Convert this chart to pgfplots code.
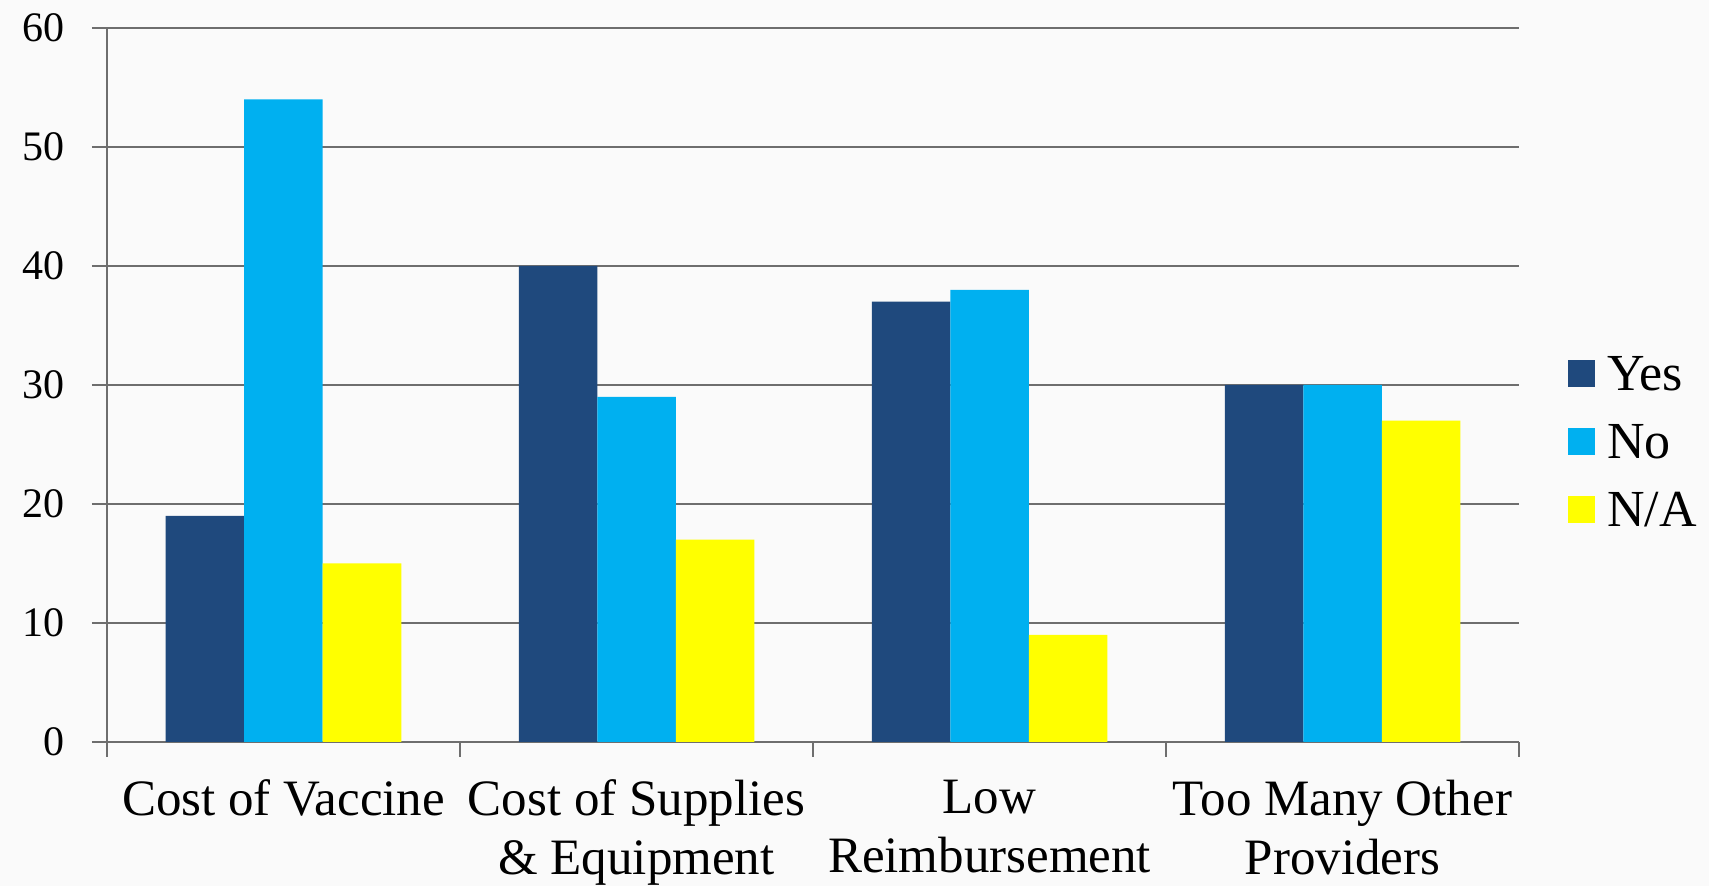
\documentclass[border=0pt]{standalone}
\usepackage{fontspec}
\setmainfont{Liberation Serif}
\usepackage{pgfplots}
\pgfplotsset{compat=1.18}
\definecolor{yescol}{HTML}{1F497D}
\definecolor{nocol}{HTML}{00B0F0}
\definecolor{nacol}{HTML}{FFFF00}
\definecolor{gridc}{HTML}{6E6E6E}
\definecolor{bgc}{HTML}{FAFAFA}
\begin{document}
\begin{tikzpicture}
\fill[bgc] (-53.5pt,-72pt) rectangle (801pt,371pt);
\begin{axis}[
  at={(0pt,0pt)}, anchor=south west,
  width=706pt, height=357pt, scale only axis,
  xmin=-0.5, xmax=3.5, ymin=0, ymax=60,
  ybar=0pt, bar width=39.25pt,
  axis x line*=bottom, axis y line*=left,
  axis line style={gridc, line width=1pt},
  ytick={0,10,...,60},
  ymajorgrids, grid style={gridc, line width=1pt},
  tick align=outside,
  major tick length=7.5pt, minor tick length=7.5pt,
  tick style={gridc, line width=1pt},
  xtick={0,1,2,3},
  major x tick style={draw=none},
  minor xtick={-0.5,0.5,1.5,2.5,3.5},
  xticklabels={{Cost of Vaccine},{Cost of Supplies\\\& Equipment},{Low\\Reimbursement},{Too Many Other\\Providers}},
  xticklabel style={align=center, font=\fontsize{25.5}{29.5}\selectfont, yshift=-8pt},
  yticklabel style={font=\fontsize{21}{25}\selectfont, xshift=-10pt},
  /pgf/number format/assume math mode=true,
  legend style={at={(1.0347,0.4146)}, anchor=west, draw=none, fill=none,
    inner sep=0pt, row sep=11pt,
    font=\fontsize{26}{30}\selectfont,
    nodes={inner sep=0pt, text height=18pt, text depth=5pt}},
  legend cell align=left,
  legend image code/.code={\fill[#1] (0pt,-4.5pt) rectangle (13.5pt,9pt); \path (19.5pt,0pt);},
]
\addplot[fill=yescol, draw=none, bar shift=-39.25pt] coordinates {(0,19) (1,40) (2,37) (3,30)};
\addplot[fill=nocol, draw=none, bar shift=0pt] coordinates {(0,54) (1,29) (2,38) (3,30)};
\addplot[fill=nacol, draw=none, bar shift=39.25pt] coordinates {(0,15) (1,17) (2,9) (3,27)};
\legend{Yes,No,N/A}
\end{axis}
\pgfresetboundingbox
\useasboundingbox (-53.5pt,-72pt) rectangle (801pt,371pt);
\end{tikzpicture}
\end{document}
